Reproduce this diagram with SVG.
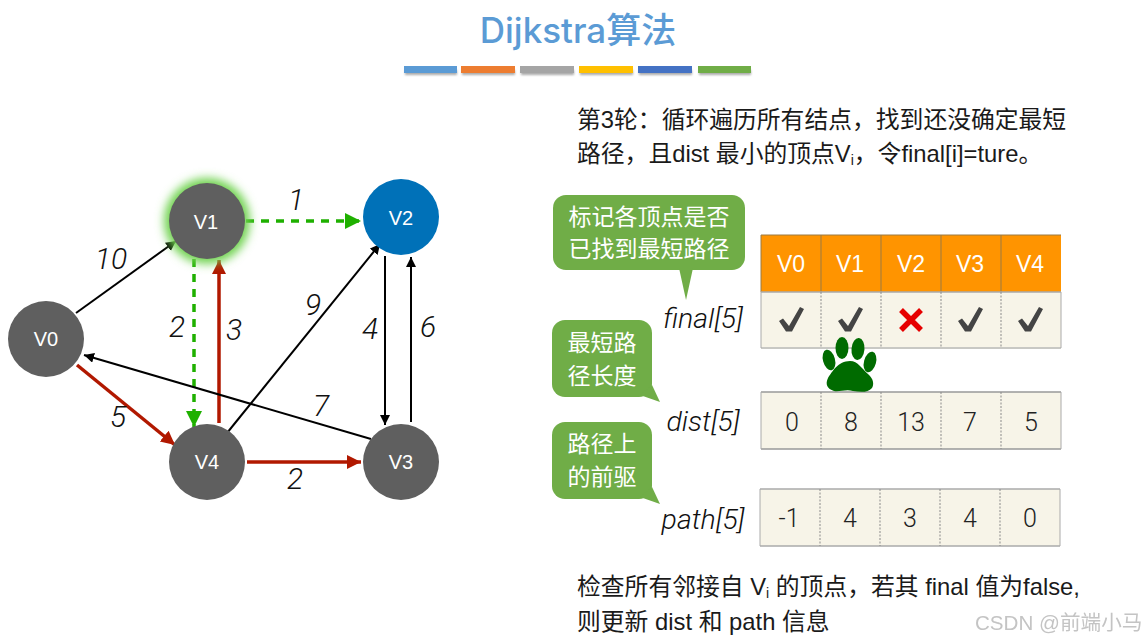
<svg xmlns="http://www.w3.org/2000/svg" width="1147" height="642" viewBox="0 0 1147 642">
<style>
text{font-family:"Liberation Sans","Noto Sans CJK SC",sans-serif}
.body{font-size:23.8px;fill:#1a1a1a}
.n{fill:#5f5f5f}
.nt{font-size:20px;fill:#fff;text-anchor:middle}
.w{font-family:Roboto,"Liberation Sans",sans-serif;font-weight:300;font-size:30px;font-style:italic;fill:#111;text-anchor:middle}
.lab{font-family:Roboto,"Liberation Sans",sans-serif;font-weight:300;font-size:28.5px;font-style:italic;fill:#111;text-anchor:middle}
.b{fill:#70ad47}
.bt{font-size:23px;fill:#fff;text-anchor:middle}
.cell{fill:#f7f4e8}
.dash{stroke:#8a8a8a;stroke-width:1;stroke-dasharray:2 1.5;fill:none}
.v{font-family:Roboto,"Liberation Sans",sans-serif;font-weight:300;font-size:25px;fill:#222;text-anchor:middle}
.h{font-size:23px;fill:#fff;text-anchor:middle}
.ck{fill:#444}
.k{stroke:#000;stroke-width:2;fill:none;marker-end:url(#ak)}
.r{stroke:#b11800;stroke-width:3.5;fill:none;marker-end:url(#ar)}
.g{stroke:#1fb000;stroke-width:3.5;stroke-dasharray:8 7;fill:none;marker-end:url(#ag)}
</style>
<defs>
<marker id="ak" markerUnits="userSpaceOnUse" markerWidth="12" markerHeight="12" refX="10" refY="5" orient="auto"><path d="M0 0L10 5L0 10z" fill="#000"/></marker>
<marker id="ar" markerUnits="userSpaceOnUse" markerWidth="16" markerHeight="16" refX="14" refY="7" orient="auto"><path d="M0 0L14 7L0 14z" fill="#b11800"/></marker>
<marker id="ag" markerUnits="userSpaceOnUse" markerWidth="18" markerHeight="18" refX="16" refY="8" orient="auto"><path d="M0 0L16 8L0 16z" fill="#1fb000"/></marker>
<path id="chk" d="M0 11L4 8.500L10 16L21 -3L25 -1L13 21.500L7 21.500z"/>
<filter id="glow" x="-40%" y="-40%" width="180%" height="180%"><feGaussianBlur stdDeviation="5"/></filter>
<filter id="sh" x="-10%" y="-50%" width="120%" height="300%"><feGaussianBlur stdDeviation="1.2"/></filter>
<filter id="wm" x="-10%" y="-30%" width="120%" height="160%"><feGaussianBlur stdDeviation="0.4"/></filter>
</defs>
<text x="578" y="43" font-size="35" font-weight="500" fill="#5b9bd5" text-anchor="middle" id="title" style="font-family:Inter,'Noto Sans CJK SC',sans-serif">Dijkstra算法</text>
<g id="bars">
<g fill="#888" filter="url(#sh)" opacity="0.7"><rect x="405" y="70" width="52" height="5"/><rect x="462" y="70" width="53" height="5"/><rect x="521" y="70" width="53" height="5"/><rect x="580" y="70" width="53" height="5"/><rect x="639" y="70" width="53" height="5"/><rect x="699" y="70" width="52" height="5"/></g>
<rect x="404" y="66" width="53" height="7" fill="#5b9bd5"/><rect x="461" y="66" width="54" height="7" fill="#ed7d31"/><rect x="520" y="66" width="54" height="7" fill="#a5a5a5"/><rect x="579" y="66" width="54" height="7" fill="#ffc000"/><rect x="638" y="66" width="54" height="7" fill="#4472c4"/><rect x="698" y="66" width="53" height="7" fill="#70ad47"/>
</g>
<g id="intro"><text x="577" y="128" class="body">第3轮：循环遍历所有结点，找到还没确定最短</text><text x="577" y="162" class="body">路径，且dist 最小的顶点V<tspan font-size="14" dy="3">i</tspan><tspan dy="-3">，令final[i]=ture。</tspan></text></g>
<g id="connectors">
<line class="k" x1="76" y1="313" x2="176" y2="241"/>
<line class="r" x1="77" y1="365" x2="175" y2="445"/>
<line class="g" x1="246" y1="221" x2="361" y2="221"/>
<line class="g" x1="194" y1="259" x2="194" y2="427"/>
<line class="r" x1="219" y1="423" x2="219" y2="260"/>
<line class="r" x1="247" y1="462" x2="361" y2="462"/>
<line class="k" x1="227" y1="433" x2="380" y2="244"/>
<line class="k" x1="385" y1="256" x2="385" y2="425"/>
<line class="k" x1="411" y1="422" x2="411" y2="257"/>
<line class="k" x1="371" y1="439" x2="84" y2="355"/>
</g>
<g id="edge-labels">
<text class="w" x="111" y="269">10</text><text class="w" x="296" y="210">1</text><text class="w" x="177" y="337">2</text><text class="w" x="234" y="340">3</text><text class="w" x="118" y="427">5</text><text class="w" x="313" y="315">9</text><text class="w" x="370" y="339">4</text><text class="w" x="428" y="337">6</text><text class="w" x="321" y="416">7</text><text class="w" x="295" y="489">2</text>
</g>
<g id="V0"><circle class="n" cx="46" cy="339" r="38"/><text class="nt" x="46" y="346">V0</text></g>
<g id="V1"><circle cx="207" cy="221" r="43" fill="#6fd24f" filter="url(#glow)"/><circle class="n" cx="207" cy="221" r="38"/><text class="nt" x="206" y="229">V1</text></g>
<g id="V2"><circle cx="401" cy="217" r="38" fill="#0071b8"/><text class="nt" x="401" y="225">V2</text></g>
<g id="V3"><circle class="n" cx="401" cy="462" r="38"/><text class="nt" x="401" y="469">V3</text></g>
<g id="V4"><circle class="n" cx="207" cy="462" r="38"/><text class="nt" x="207" y="469">V4</text></g>
<g id="bubble-final"><rect class="b" x="553" y="195" width="192" height="75" rx="13"/><path class="b" d="M679 268L693 268L686 300z"/><text class="bt" x="649" y="225">标记各顶点是否</text><text class="bt" x="649" y="257">已找到最短路径</text></g>
<g id="bubble-dist"><rect class="b" x="552" y="320" width="100" height="77" rx="13"/><path class="b" d="M652 385L660 402L640 395z"/><text class="bt" x="602" y="351">最短路</text><text class="bt" x="602" y="384">径长度</text></g>
<g id="bubble-path"><rect class="b" x="552" y="422" width="100" height="77" rx="13"/><path class="b" d="M652 487L660 504L640 497z"/><text class="bt" x="602" y="452">路径上</text><text class="bt" x="602" y="485">的前驱</text></g>
<text class="lab" x="703" y="328" id="l-final">final[5]</text>
<text class="lab" x="703" y="431" id="l-dist">dist[5]</text>
<text class="lab" x="703" y="529" id="l-path">path[5]</text>
<g id="final">
<rect class="cell" x="761" y="292" width="300" height="56"/>
<rect x="761" y="235" width="300" height="57" fill="#ff9400"/>
<path d="M761 235H1061M821 235V292M881 235V292M941 235V292M1001 235V292M761 235V292" stroke="#9a7a45" stroke-width="1" fill="none"/>
<path d="M761 292H1061" stroke="#aaa" stroke-width="1.5"/>
<path d="M761 348H1061" stroke="#c8c8c4" stroke-width="2"/>
<path d="M761 292V348M1061 292V348" stroke="#aaa" stroke-width="1"/>
<path class="dash" d="M821 292V348M881 292V348M941 292V348M1001 292V348"/>
<text class="h" x="791" y="272">V0</text><text class="h" x="850" y="272">V1</text><text class="h" x="911" y="272">V2</text><text class="h" x="970" y="272">V3</text><text class="h" x="1030" y="272">V4</text>
<use class="ck" href="#chk" x="779" y="310"/><use class="ck" href="#chk" x="838" y="310"/><use class="ck" href="#chk" x="958" y="310"/><use class="ck" href="#chk" x="1018" y="310"/>
<path d="M901 310L921 330M921 310L901 330" stroke="#e60000" stroke-width="5.500" fill="none"/>
</g>
<g id="dist">
<rect class="cell" x="761" y="392" width="300" height="57"/>
<path d="M761 392H1061M761 449H1061" stroke="#999" stroke-width="1.5"/><path d="M761 392V449M1061 392V449" stroke="#aaa"/>
<path class="dash" d="M821 392V449M881 392V449M941 392V449M1001 392V449"/>
<text class="v" x="792" y="431">0</text><text class="v" x="851" y="431">8</text><text class="v" x="911" y="431">13</text><text class="v" x="970" y="431">7</text><text class="v" x="1031" y="431">5</text>
</g>
<g id="path">
<rect class="cell" x="760" y="489" width="300" height="57"/>
<path d="M760 489H1060M760 546H1060" stroke="#aaa" stroke-width="1.5"/><path d="M760 489V546M1060 489V546" stroke="#aaa"/>
<path class="dash" d="M820 489V546M880 489V546M940 489V546M1000 489V546"/>
<text class="v" x="789" y="527">-1</text><text class="v" x="850" y="527">4</text><text class="v" x="910" y="527">3</text><text class="v" x="970" y="527">4</text><text class="v" x="1030" y="527">0</text>
</g>
<g id="paw" fill="#006b00">
<ellipse cx="829" cy="360" rx="6" ry="10.5" transform="rotate(-15 829 360)"/>
<ellipse cx="842" cy="348" rx="6.5" ry="11"/>
<ellipse cx="858" cy="349" rx="6.5" ry="11" transform="rotate(5 858 349)"/>
<ellipse cx="870" cy="362" rx="6" ry="10.5" transform="rotate(15 870 362)"/>
<path d="M850 361C858 361 862 369 868 374C874 379 874 385 872 388C868 393 860 392 853 391C846 389 840 392 834 391C827 389 825 384 828 378C832 372 838 361 850 361z"/>
</g>
<g id="outro"><text x="577" y="595" class="body">检查所有邻接自 V<tspan font-size="14" dy="3">i</tspan><tspan dy="-3"> 的顶点，若其 final 值为false,</tspan></text><text x="577" y="630" class="body">则更新 dist 和 path 信息</text></g>
<text x="975" y="630" font-size="20.6" fill="#c4c4c4" filter="url(#wm)" id="watermark">CSDN @前端小马</text>
</svg>
